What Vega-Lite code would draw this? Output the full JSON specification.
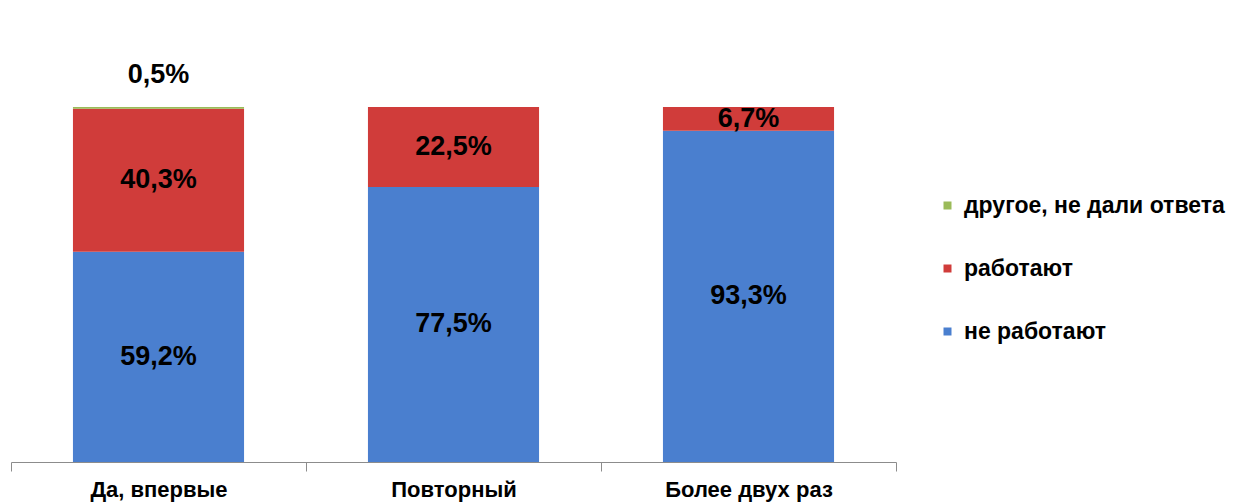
{
  "$schema": "https://vega.github.io/schema/vega-lite/v6.json",
  "width": 885,
  "height": 355,
  "autosize": "none",
  "padding": {"left": 11, "top": 107, "right": 338, "bottom": 42},
  "background": "white",
  "config": {"view": {"stroke": null}, "font": "Liberation Sans"},
  "data": {
    "values": [
      {"cat": "Да, впервые", "series": "не работают", "value": 59.2, "label": "59,2%", "ord": 1},
      {"cat": "Да, впервые", "series": "работают", "value": 40.3, "label": "40,3%", "ord": 2},
      {"cat": "Да, впервые", "series": "другое, не дали ответа", "value": 0.5, "label": "0,5%", "ord": 3},
      {"cat": "Повторный", "series": "не работают", "value": 77.5, "label": "77,5%", "ord": 1},
      {"cat": "Повторный", "series": "работают", "value": 22.5, "label": "22,5%", "ord": 2},
      {"cat": "Более двух раз", "series": "не работают", "value": 93.3, "label": "93,3%", "ord": 1},
      {"cat": "Более двух раз", "series": "работают", "value": 6.7, "label": "6,7%", "ord": 2}
    ]
  },
  "transform": [
    {"stack": "value", "groupby": ["cat"], "sort": [{"field": "ord", "order": "ascending"}], "as": ["y0", "y1"]}
  ],
  "layer": [
    {
      "mark": {"type": "bar", "width": {"band": 0.58}},
      "encoding": {
        "x": {
          "field": "cat", "type": "nominal", "sort": ["Да, впервые", "Повторный", "Более двух раз"],
          "scale": {"paddingInner": 0, "paddingOuter": 0},
          "axis": {
            "title": null, "labelAngle": 0, "labelFontSize": 22, "labelFontWeight": "bold",
            "labelColor": "black", "labelPadding": 8, "domainColor": "#8c8c8c", "tickColor": "#8c8c8c",
            "tickBand": "extent", "tickSize": 9, "domainWidth": 1.2
          }
        },
        "y": {"field": "y1", "type": "quantitative", "scale": {"domain": [0, 100]}, "axis": null},
        "y2": {"field": "y0"},
        "color": {
          "field": "series", "type": "nominal",
          "scale": {"domain": ["другое, не дали ответа", "работают", "не работают"], "range": ["#9bbb59", "#d03c3a", "#4a7fcf"]},
          "legend": {
            "title": null, "orient": "none", "legendX": 925, "legendY": 87,
            "symbolType": "square", "symbolSize": 64, "labelFontSize": 23, "labelFontWeight": "bold",
            "labelColor": "black", "rowPadding": 39, "labelOffset": 5, "symbolStrokeWidth": 0, "labelLimit": 400
          }
        }
      }
    },
    {
      "transform": [
        {"filter": "datum.value > 1"},
        {"fold": ["y0", "y1"], "as": ["k", "v"]},
        {"aggregate": [{"op": "mean", "field": "v", "as": "mid"}], "groupby": ["cat", "label"]}
      ],
      "mark": {"type": "text", "fontSize": 27, "fontWeight": "bold", "color": "black"},
      "encoding": {
        "x": {"field": "cat", "type": "nominal", "sort": ["Да, впервые", "Повторный", "Более двух раз"]},
        "y": {"field": "mid", "type": "quantitative"},
        "text": {"field": "label"}
      }
    },
    {
      "transform": [{"filter": "datum.value <= 1"}],
      "mark": {"type": "text", "fontSize": 27, "fontWeight": "bold", "color": "black", "dy": -32},
      "encoding": {
        "x": {"field": "cat", "type": "nominal", "sort": ["Да, впервые", "Повторный", "Более двух раз"]},
        "y": {"field": "y1", "type": "quantitative"},
        "text": {"field": "label"}
      }
    }
  ]
}
